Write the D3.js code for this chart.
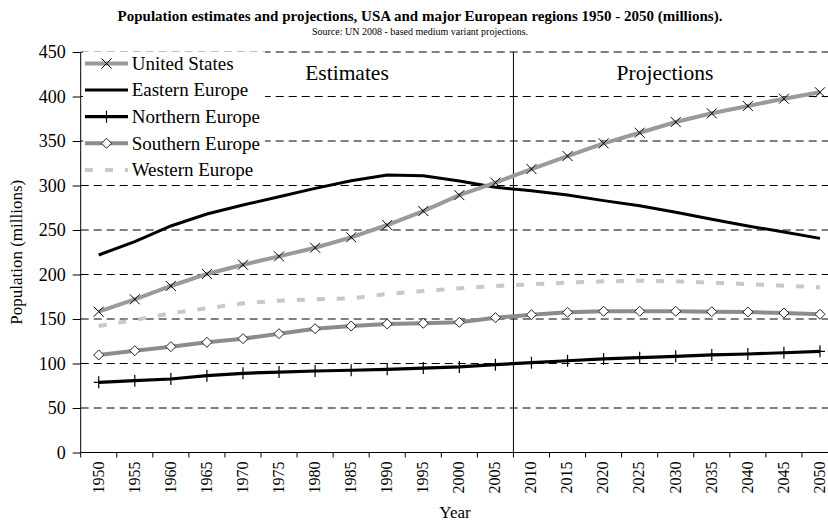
<!DOCTYPE html>
<html>
<head>
<meta charset="utf-8">
<script src="https://cdn.jsdelivr.net/npm/d3@7"></script>
<style>
  body { margin: 0; background: #fff; }
  text { font-family: "Liberation Serif", "Times New Roman", serif; fill: #000; }
</style>
</head>
<body>
<div id="chart"></div>
<script>
// values (millions)
var years = [1950, 1955, 1960, 1965, 1970, 1975, 1980, 1985, 1990, 1995, 2000,
             2005, 2010, 2015, 2020, 2025, 2030, 2035, 2040, 2045, 2050];
var unitedStates = [158.2, 172.1, 187.1, 200.6, 211.0, 220.4, 230.1, 241.8, 255.6, 271.3, 289.2,
                    303.2, 318.5, 333.1, 347.4, 359.3, 371.3, 381.1, 389.3, 397.5, 404.7];
var easternEurope = [221.9, 236.9, 254.5, 268.0, 278.0, 287.4, 296.8, 305.4, 311.8, 311.0, 305.0,
                     298.0, 294.2, 289.3, 283.0, 277.3, 269.9, 262.0, 254.5, 247.8, 240.6];
var northernEurope = [78.9, 80.7, 82.6, 86.3, 89.0, 90.4, 91.6, 92.4, 93.5, 94.9, 96.1,
                      98.7, 100.9, 103.1, 105.1, 106.5, 108.1, 109.6, 110.7, 112.1, 113.7];
var southernEurope = [109.6, 114.4, 118.9, 123.8, 127.9, 133.5, 139.1, 142.1, 144.4, 145.2, 146.3,
                      151.5, 154.8, 157.5, 158.7, 158.7, 158.7, 158.2, 157.9, 156.7, 155.3];
var westernEurope = [142.1, 148.9, 156.4, 162.0, 167.6, 170.6, 172.1, 173.2, 178.1, 181.5, 184.5,
                     187.1, 189.0, 190.8, 192.3, 193.0, 192.3, 190.8, 189.3, 187.4, 185.6];
var seriesNames = ["United States", "Eastern Europe", "Northern Europe", "Southern Europe", "Western Europe"];
var yTicks = [0, 50, 100, 150, 200, 250, 300, 350, 400, 450];
var periodLabels = ["Estimates", "Projections"];

var width = 828, height = 524
var margin = {top: 52, right: -10, bottom: 71.5, left: 80.7}
var innerW = width - margin.left - margin.right,
    innerH = height - margin.top - margin.bottom

var svg = d3.select("#chart").append("svg")
    .attr("width", width)
    .attr("height", height)

svg.append("text")
    .attr("x", 420).attr("y", 21)
    .attr("text-anchor", "middle")
    .style("font-weight", "bold").style("font-size", "15px")
    .text("Population estimates and projections, USA and major European regions 1950 - 2050 (millions).")

svg.append("text")
    .attr("x", 420).attr("y", 35)
    .attr("text-anchor", "middle")
    .style("font-size", "10px")
    .text("Source: UN 2008 - based medium variant projections.")

var g = svg.append("g")
    .attr("transform", "translate(" + margin.left + "," + margin.top + ")")

var x = d3.scaleBand().domain(years).range([0, innerW])
var y = d3.scaleLinear().domain([0, 450]).range([innerH, 0])
var cx = function(yr) { return x(yr) + x.bandwidth() / 2 }

// dashed gridlines
g.selectAll(".grid").data(yTicks.filter(function(d) { return d > 0 }))
  .enter().append("line")
    .attr("x1", 0).attr("x2", innerW)
    .attr("y1", function(d) { return y(d) }).attr("y2", function(d) { return y(d) })
    .attr("stroke", "#000").attr("stroke-width", 1)
    .attr("stroke-dasharray", "8,5")

// estimates / projections divider between 2005 and 2010
g.append("line")
    .attr("x1", x(2010)).attr("x2", x(2010))
    .attr("y1", 0).attr("y2", innerH)
    .attr("stroke", "#000").attr("stroke-width", 1)

g.append("text")
    .attr("x", 347 - margin.left).attr("y", 80 - margin.top)
    .attr("text-anchor", "middle").style("font-size", "21.5px")
    .text(periodLabels[0])
g.append("text")
    .attr("x", 665 - margin.left).attr("y", 80 - margin.top)
    .attr("text-anchor", "middle").style("font-size", "21.5px")
    .text(periodLabels[1])

// axes
var yAxis = g.append("g")
    .call(d3.axisLeft(y).tickValues(yTicks).tickSize(8).tickPadding(7))
var xAxis = g.append("g")
    .attr("transform", "translate(0," + innerH + ")")
    .call(d3.axisBottom(x).tickSize(0).tickPadding(9))

yAxis.select(".domain").attr("d", "M0,0V" + innerH)
yAxis.selectAll("text").style("font-size", "18px").style("font-family", "Liberation Serif")
xAxis.select(".domain").attr("d", "M0,0H" + innerW)
xAxis.selectAll("text")
    .style("font-size", "16px").style("font-family", "Liberation Serif")
    .attr("transform", "rotate(-90)")
    .attr("text-anchor", "end")
    .attr("x", -9).attr("y", 0).attr("dy", "0.3em")

// category boundary ticks
xAxis.selectAll(".bound").data(years)
  .enter().append("line")
    .attr("x1", function(d) { return x(d) }).attr("x2", function(d) { return x(d) })
    .attr("y1", 0).attr("y2", 5)
    .attr("stroke", "#000")

svg.append("text")
    .attr("transform", "translate(22," + (margin.top + innerH / 2) + ") rotate(-90)")
    .attr("text-anchor", "middle").style("font-size", "17px")
    .text("Population (millions)")

svg.append("text")
    .attr("x", 455).attr("y", 518)
    .attr("text-anchor", "middle").style("font-size", "17px")
    .text("Year")

// series
var series = [
  {name: seriesNames[4], values: westernEurope, color: "#c8c8c8", w: 4, dash: "8,12", marker: null},
  {name: seriesNames[2], values: northernEurope, color: "#000", w: 3.2, dash: null, marker: "plus"},
  {name: seriesNames[3], values: southernEurope, color: "#8c8c8c", w: 4, dash: null, marker: "diamond"},
  {name: seriesNames[1], values: easternEurope, color: "#000", w: 3, dash: null, marker: null},
  {name: seriesNames[0], values: unitedStates, color: "#9a9a9a", w: 4, dash: null, marker: "cross"}
]

var line = d3.line()
    .x(function(d, i) { return cx(years[i]) })
    .y(function(d) { return y(d) })

function drawMarker(sel, type) {
  if (type == "cross") {
    sel.append("path").attr("d", "M-5,-5L5,5M-5,5L5,-5")
      .attr("stroke", "#000").attr("stroke-width", 1).attr("fill", "none")
  } else if (type == "plus") {
    sel.append("path").attr("d", "M0,-6V6M-5,0H5")
      .attr("stroke", "#000").attr("stroke-width", 1.2).attr("fill", "none")
  } else if (type == "diamond") {
    sel.append("path").attr("d", "M0,-5L5,0L0,5L-5,0Z")
      .attr("stroke", "#222").attr("stroke-width", 1).attr("fill", "#fff")
  }
}

series.forEach(function(s) {
  g.append("path")
    .attr("d", line(s.values))
    .attr("fill", "none")
    .attr("stroke", s.color)
    .attr("stroke-width", s.w)
    .attr("stroke-dasharray", s.dash)
  if (s.marker) {
    s.values.forEach(function(v, i) {
      var m = g.append("g").attr("transform", "translate(" + cx(years[i]) + "," + y(v) + ")")
      drawMarker(m, s.marker)
    })
  }
})

// legend
var legendOrder = [4, 3, 1, 2, 0]
var legend = svg.append("g")
legendOrder.forEach(function(si, k) {
  var s = series[si]
  var ly = 63.5 + k * 26.6
  var row = legend.append("g").attr("transform", "translate(0," + ly + ")")
  row.append("rect").attr("x", 83).attr("y", -12).attr("width", 182).attr("height", 24).attr("fill", "#fff")
  row.append("line")
    .attr("x1", 85).attr("x2", 128).attr("y1", 0).attr("y2", 0)
    .attr("stroke", s.color).attr("stroke-width", s.w)
    .attr("stroke-dasharray", s.dash)
  if (s.marker) {
    drawMarker(row.append("g").attr("transform", "translate(106.5,0)"), s.marker)
  }
  row.append("text")
    .attr("x", 131.7).attr("y", 0).attr("dy", "0.33em")
    .style("font-size", "19px")
    .text(s.name)
})
</script>
</body>
</html>
